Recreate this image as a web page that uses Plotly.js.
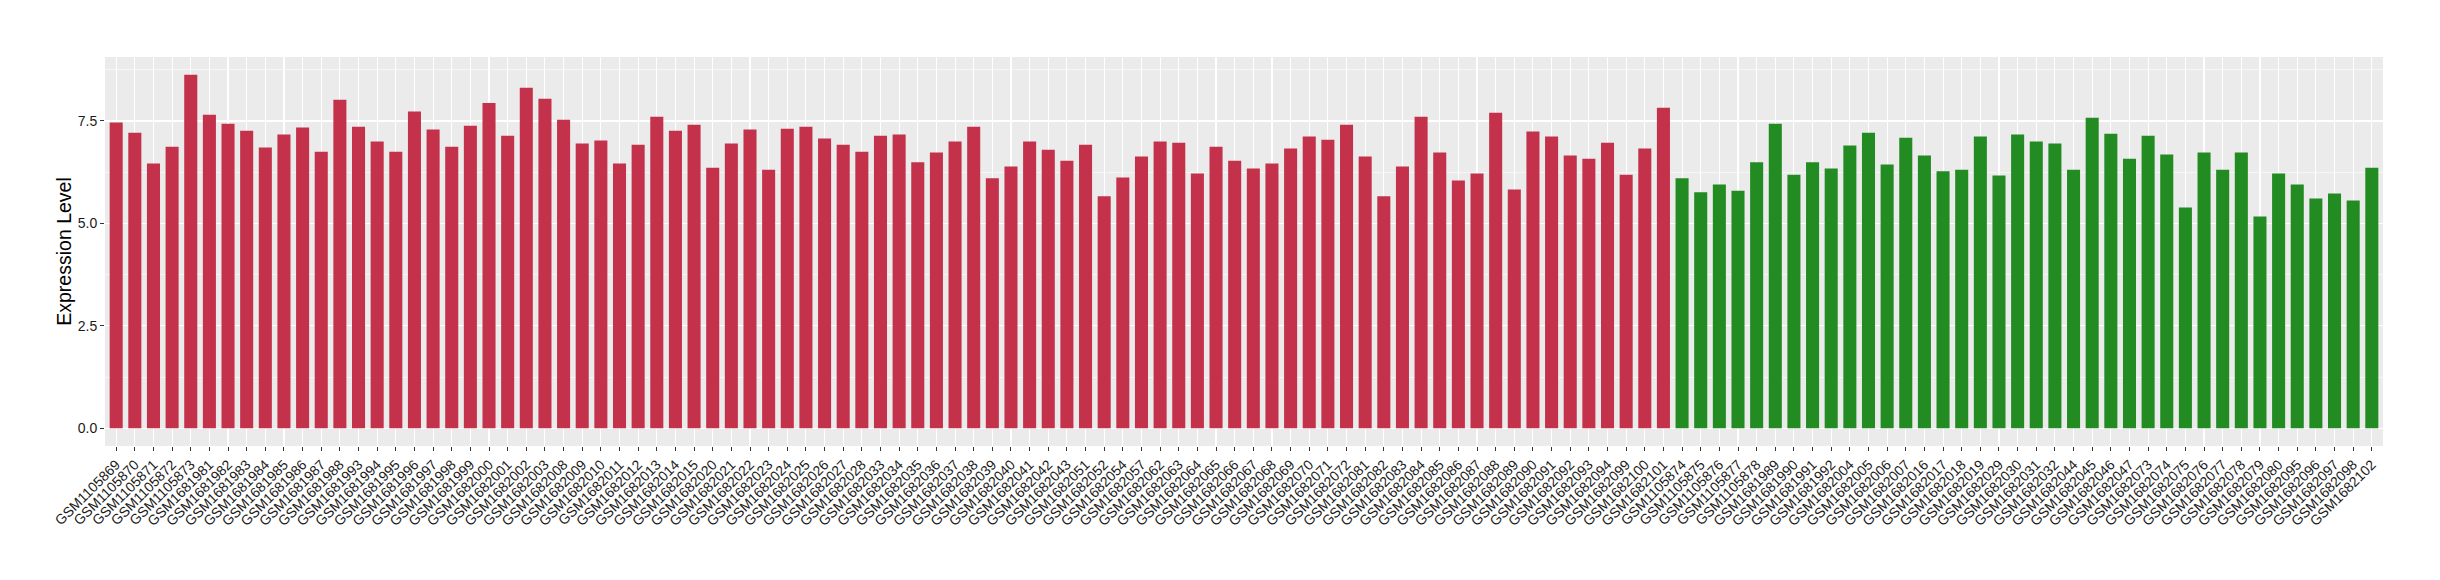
<!DOCTYPE html>
<html>
<head>
<meta charset="utf-8">
<script src="https://cdn.plot.ly/plotly-3.0.1.min.js"></script>
<style>html,body{margin:0;padding:0;background:#fff;}#chart{width:2440px;height:580px;}</style>
</head>
<body>
<div id="chart"></div>
<script>
const redSamples = ["GSM1105869","GSM1105870","GSM1105871","GSM1105872","GSM1105873","GSM1681981","GSM1681982","GSM1681983","GSM1681984","GSM1681985","GSM1681986","GSM1681987","GSM1681988","GSM1681993","GSM1681994","GSM1681995","GSM1681996","GSM1681997","GSM1681998","GSM1681999","GSM1682000","GSM1682001","GSM1682002","GSM1682003","GSM1682008","GSM1682009","GSM1682010","GSM1682011","GSM1682012","GSM1682013","GSM1682014","GSM1682015","GSM1682020","GSM1682021","GSM1682022","GSM1682023","GSM1682024","GSM1682025","GSM1682026","GSM1682027","GSM1682028","GSM1682033","GSM1682034","GSM1682035","GSM1682036","GSM1682037","GSM1682038","GSM1682039","GSM1682040","GSM1682041","GSM1682042","GSM1682043","GSM1682051","GSM1682052","GSM1682054","GSM1682057","GSM1682062","GSM1682063","GSM1682064","GSM1682065","GSM1682066","GSM1682067","GSM1682068","GSM1682069","GSM1682070","GSM1682071","GSM1682072","GSM1682081","GSM1682082","GSM1682083","GSM1682084","GSM1682085","GSM1682086","GSM1682087","GSM1682088","GSM1682089","GSM1682090","GSM1682091","GSM1682092","GSM1682093","GSM1682094","GSM1682099","GSM1682100","GSM1682101"];
const redValues = [7.46,7.21,6.46,6.87,8.63,7.65,7.43,7.26,6.85,7.17,7.34,6.75,8.02,7.36,7.00,6.75,7.73,7.29,6.87,7.38,7.94,7.14,8.31,8.04,7.53,6.95,7.02,6.46,6.92,7.60,7.26,7.41,6.36,6.95,7.29,6.31,7.31,7.36,7.07,6.92,6.75,7.14,7.17,6.49,6.73,7.00,7.36,6.10,6.39,7.00,6.80,6.53,6.92,5.66,6.12,6.63,7.00,6.97,6.22,6.87,6.53,6.34,6.46,6.83,7.12,7.04,7.41,6.63,5.66,6.39,7.60,6.73,6.05,6.22,7.70,5.83,7.24,7.12,6.66,6.58,6.97,6.19,6.83,7.82];
const greenSamples = ["GSM1105874","GSM1105875","GSM1105876","GSM1105877","GSM1105878","GSM1681989","GSM1681990","GSM1681991","GSM1681992","GSM1682004","GSM1682005","GSM1682006","GSM1682007","GSM1682016","GSM1682017","GSM1682018","GSM1682019","GSM1682029","GSM1682030","GSM1682031","GSM1682032","GSM1682044","GSM1682045","GSM1682046","GSM1682047","GSM1682073","GSM1682074","GSM1682075","GSM1682076","GSM1682077","GSM1682078","GSM1682079","GSM1682080","GSM1682095","GSM1682096","GSM1682097","GSM1682098","GSM1682102"];
const greenValues = [6.10,5.76,5.95,5.80,6.49,7.43,6.19,6.49,6.34,6.90,7.21,6.44,7.09,6.66,6.27,6.31,7.12,6.17,7.17,7.00,6.95,6.31,7.58,7.19,6.58,7.14,6.68,5.39,6.73,6.31,6.73,5.17,6.22,5.95,5.61,5.73,5.56,6.36];
const yTickVals = [0, 2.5, 5, 7.5];
const yTickText = ["0.0", "2.5", "5.0", "7.5"];

const RED = "#C3314A";
const GREEN = "#228B22";
const samples = redSamples.concat(greenSamples);
const values = redValues.concat(greenValues);
const colors = redSamples.map(() => RED).concat(greenSamples.map(() => GREEN));

const trace = {
  type: "bar",
  x: samples,
  y: values,
  width: 0.7,
  marker: { color: colors, line: { width: 0 } },
  hoverinfo: "x+y"
};

const layout = {
  width: 2440,
  height: 580,
  margin: { l: 105, r: 57, t: 57, b: 134, pad: 0 },
  paper_bgcolor: "#FFFFFF",
  plot_bgcolor: "#EBEBEB",
  showlegend: false,
  font: { family: "Liberation Sans, Arial, Helvetica, sans-serif", size: 14, color: "#1A1A1A" },
  xaxis: {
    type: "category",
    categoryorder: "array",
    categoryarray: samples,
    range: [-0.6, samples.length - 0.4],
    tickangle: -45,
    ticks: "outside",
    ticklen: 4,
    tickwidth: 1,
    tickcolor: "#333333",
    showgrid: true,
    gridcolor: "#FFFFFF",
    gridwidth: 1.1,
    zeroline: false,
    showline: false,
    tickfont: { size: 14, color: "#1A1A1A" },
    automargin: false
  },
  yaxis: {
    range: [-0.43, 9.06],
    tickvals: yTickVals,
    ticktext: yTickText,
    ticks: "outside",
    ticklen: 4,
    tickwidth: 1,
    tickcolor: "#333333",
    showgrid: true,
    gridcolor: "#FFFFFF",
    gridwidth: 1.1,
    minor: { tickvals: [1.25, 3.75, 6.25, 8.75], showgrid: true, gridcolor: "#FFFFFF", gridwidth: 0.55, ticks: "" },
    zeroline: false,
    showline: false,
    tickfont: { size: 14, color: "#1A1A1A" },
    title: { text: "Expression Level", font: { size: 19.5, color: "#000000" }, standoff: 0 },
    automargin: false
  },
  bargap: 0.3
};

Plotly.newPlot("chart", [trace], layout, { displayModeBar: false, staticPlot: true });
</script>
</body>
</html>
